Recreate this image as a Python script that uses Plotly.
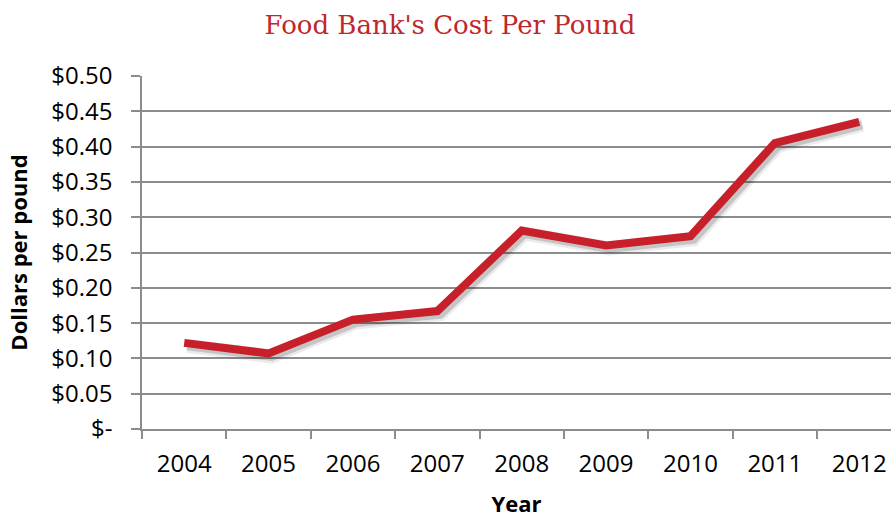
import plotly.graph_objects as go

years = ["2004", "2005", "2006", "2007", "2008", "2009", "2010", "2011", "2012"]
cost = [0.122, 0.107, 0.155, 0.167, 0.281, 0.260, 0.273, 0.405, 0.435]
ytick_vals = [0, 0.05, 0.10, 0.15, 0.20, 0.25, 0.30, 0.35, 0.40, 0.45, 0.50]
ytick_text = ["$-", "$0.05", "$0.10", "$0.15", "$0.20", "$0.25", "$0.30", "$0.35", "$0.40", "$0.45", "$0.50"]

W, H = 891, 518
ml, mr, mt, mb = 142, 0, 76, 89
xr = [-0.5, 8.377]
yr = [0, 0.5]
plot_w = W - ml - mr
plot_h = H - mt - mb
dx = 3 * (xr[1] - xr[0]) / plot_w
dy = 3 * (yr[1] - yr[0]) / plot_h

fig = go.Figure()
# invisible trace so the main axes (grid, ticks) are built
fig.add_trace(go.Scatter(x=years, y=cost, mode="lines", xaxis="x", yaxis="y",
                         line=dict(color="rgba(0,0,0,0)", width=0),
                         hoverinfo="skip", showlegend=False))
# soft shadow drawn on offset overlay axes
fig.add_trace(go.Scatter(x=years, y=cost, mode="lines", xaxis="x2", yaxis="y2",
                         line=dict(color="rgba(0,0,0,0.08)", width=14),
                         hoverinfo="skip", showlegend=False))
fig.add_trace(go.Scatter(x=years, y=cost, mode="lines", xaxis="x2", yaxis="y2",
                         line=dict(color="rgba(0,0,0,0.16)", width=9),
                         hoverinfo="skip", showlegend=False))
# main line on a top overlay with the true range
fig.add_trace(go.Scatter(x=years, y=cost, mode="lines", xaxis="x3", yaxis="y3",
                         line=dict(color="#C8202A", width=8),
                         showlegend=False))

font_main = "Open Sans, Noto Sans, sans-serif"
fig.update_layout(
    width=W, height=H,
    margin=dict(l=ml, r=mr, t=mt, b=mb),
    paper_bgcolor="white", plot_bgcolor="white",
    title=dict(text="Food Bank's Cost Per Pound", x=450 / W, xanchor="center",
               y=1 - 25 / H, yanchor="middle", xref="container",
               font=dict(family="DejaVu Serif, serif", size=26, color="#C0272D")),
    xaxis=dict(type="category", categoryorder="array", categoryarray=years,
               range=xr, tickson="boundaries", ticks="outside", ticklen=8,
               tickwidth=1.5, tickcolor="#8c8c8c", showline=True,
               linecolor="#8c8c8c", linewidth=1.5, showgrid=False,
               ticklabelstandoff=12,
               tickfont=dict(family=font_main, size=24, color="black"),
               title=dict(text="Year", standoff=20,
                          font=dict(family=font_main, size=22, color="black",
                                    weight="bold"))),
    yaxis=dict(range=yr, tickvals=ytick_vals, ticktext=ytick_text,
               ticks="outside", ticklen=9, tickwidth=1.5, tickcolor="#8c8c8c",
               showline=True, linecolor="#8c8c8c", linewidth=1.5,
               showgrid=True, gridcolor="#8c8c8c", gridwidth=1.5,
               zeroline=False, ticklabelstandoff=14,
               tickfont=dict(family=font_main, size=24, color="black"),
               title=dict(text="Dollars per pound", standoff=18,
                          font=dict(family=font_main, size=22, color="black",
                                    weight="bold"))),
    xaxis2=dict(type="category", categoryorder="array", categoryarray=years,
                range=[xr[0] - dx, xr[1] - dx], overlaying="x", visible=False),
    yaxis2=dict(range=[yr[0] + dy, yr[1] + dy], overlaying="y", visible=False),
    xaxis3=dict(type="category", categoryorder="array", categoryarray=years,
                range=xr, overlaying="x", visible=False),
    yaxis3=dict(range=yr, overlaying="y", visible=False),
)

fig.write_html("out.html")
